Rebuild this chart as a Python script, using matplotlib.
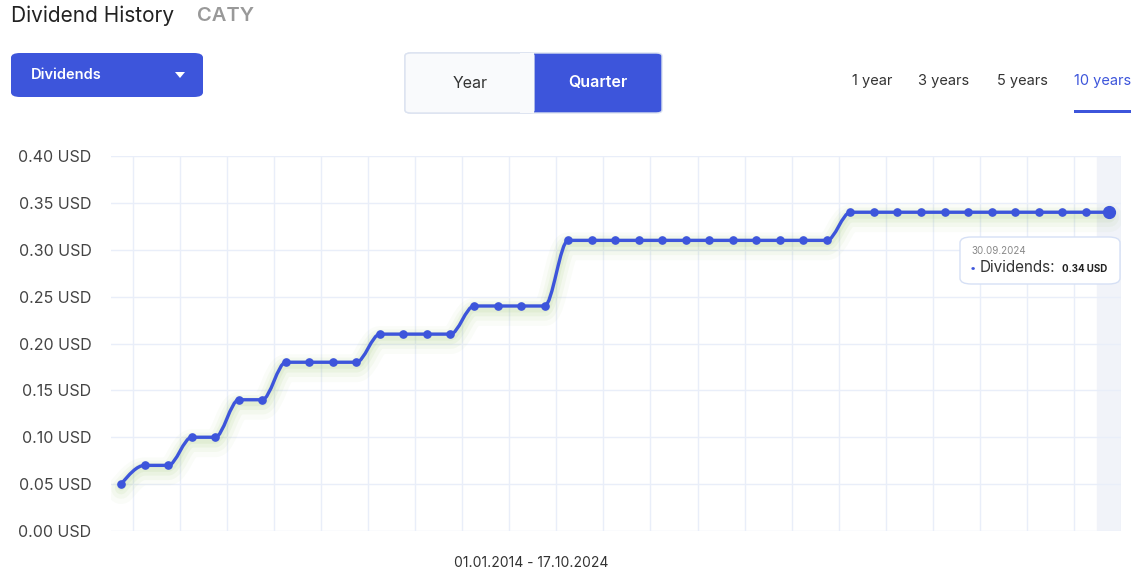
import numpy as np
import matplotlib.pyplot as plt
from matplotlib.path import Path
from matplotlib.patches import PathPatch, FancyBboxPatch, Rectangle, Polygon
import matplotlib.transforms as mtransforms

plt.rcParams['font.family'] = ['Inter', 'DejaVu Sans']

# quarterly dividends, Q1 2014 .. Q3 2024
dividends = [0.05, 0.07, 0.07, 0.10, 0.10, 0.14, 0.14,
             0.18, 0.18, 0.18, 0.18, 0.21, 0.21, 0.21, 0.21,
             0.24, 0.24, 0.24, 0.24] + [0.31] * 12 + [0.34] * 12
yticks = [0.0, 0.05, 0.10, 0.15, 0.20, 0.25, 0.30, 0.35, 0.40]
ranges = ['1 year', '3 years', '5 years', '10 years']
period = '01.01.2014 - 17.10.2024'
hover_date = '30.09.2024'

blue = '#3d55db'
W, H = 1145, 578
fig = plt.figure(figsize=(W / 100, H / 100), dpi=100)


def fx(px):
    return px / W


def fy(py):
    return 1 - py / H


# ---------- header widgets ----------
fig.text(fx(11), fy(16), 'Dividend History', fontsize=15, color='#222', va='center')
fig.text(fx(197), fy(16), 'CATY', fontsize=14.5, color='#999', va='center', fontweight='semibold')

fig.patches.append(FancyBboxPatch((fx(11), fy(97)), fx(192), 44 / H,
                                  boxstyle='round,pad=0,rounding_size=0.008',
                                  transform=fig.transFigure, fc=blue, ec='none'))
fig.text(fx(31), fy(75), 'Dividends', fontsize=10.5, color='white', va='center', fontweight='semibold')
fig.patches.append(Polygon([[fx(175), fy(72)], [fx(185), fy(72)], [fx(180), fy(78)]],
                           closed=True, transform=fig.transFigure, fc='white', ec='none'))

fig.patches.append(FancyBboxPatch((fx(405), fy(113)), fx(257), 60 / H,
                                  boxstyle='round,pad=0,rounding_size=0.005',
                                  transform=fig.transFigure, fc=blue, ec='#dbe2f0', lw=1))
fig.patches.append(FancyBboxPatch((fx(405), fy(113)), fx(129), 60 / H,
                                  boxstyle='round,pad=0,rounding_size=0.005',
                                  transform=fig.transFigure, fc='#f9fafc', ec='#dbe2f0', lw=1))
fig.patches.append(Rectangle((fx(520), fy(112.5)), fx(14), 59 / H,
                             transform=fig.transFigure, fc='#f9fafc', ec='none'))
fig.text(fx(470), fy(83), 'Year', fontsize=11.5, color='#333', ha='center', va='center')
fig.text(fx(598), fy(83), 'Quarter', fontsize=11.5, color='white', ha='center', va='center', fontweight='semibold')

for lab, cx in zip(ranges, [872, 944, 1022, 1103]):
    fig.text(fx(cx), fy(81), lab, fontsize=10.5, ha='center', va='center',
             color=blue if lab == '10 years' else '#333')
fig.patches.append(Rectangle((fx(1074), fy(113)), fx(57), 3 / H,
                             transform=fig.transFigure, fc=blue, ec='none'))

# ---------- chart ----------
ax = fig.add_axes([fx(111), fy(531), fx(1010), 375 / H])
n = len(dividends)
x = np.arange(n)
y = np.array(dividends)
ax.set_xlim(-0.43, n - 0.5)
ax.set_ylim(0, 0.40)

ax.set_yticks(yticks)
ax.set_yticklabels(['%.2f USD' % v for v in yticks], fontsize=11.5, color='#444')
ax.tick_params(axis='y', length=0, pad=14)
ax.set_xticks(np.arange(0.5, n, 2))
ax.set_xticklabels([])
ax.tick_params(axis='x', length=0)
ax.grid(True, color='#e9eef9', lw=1)
ax.set_axisbelow(True)
for s in ax.spines.values():
    s.set_visible(False)

# hover band on last quarter
ax.axvspan(n - 1.5, n - 0.5, color='#f1f3f9', zorder=0)

# monotone cubic tangents (smooth line like the web chart)
d = np.diff(y)
m = np.zeros(n)
for i in range(1, n - 1):
    s0, s1 = d[i - 1], d[i]
    p = (s0 + s1) / 2
    m[i] = (np.sign(s0) + np.sign(s1)) * min(abs(s0), abs(s1), 0.5 * abs(p))
m[0] = (3 * d[0] - m[1]) / 2
m[-1] = (3 * d[-1] - m[-2]) / 2

verts = [(x[0], y[0])]
codes = [Path.MOVETO]
for i in range(n - 1):
    verts += [(x[i] + 1 / 3, y[i] + m[i] / 3),
              (x[i + 1] - 1 / 3, y[i + 1] - m[i + 1] / 3),
              (x[i + 1], y[i + 1])]
    codes += [Path.CURVE4] * 3
path = Path(verts, codes)

# soft green glow under the line
for lw, a, off in [(20, 0.035, -6), (14, 0.05, -5), (9, 0.07, -4), (5, 0.08, -3)]:
    tr = mtransforms.offset_copy(ax.transData, fig=fig, x=0, y=off, units='dots')
    ax.add_patch(PathPatch(path, fill=False, ec='#7cb342', lw=lw, alpha=a,
                           transform=tr, capstyle='round', joinstyle='round', zorder=2))

ax.add_patch(PathPatch(path, fill=False, ec=blue, lw=2.4, zorder=3))
ax.plot(x[:-1], y[:-1], 'o', color=blue, ms=5.2, zorder=4)
ax.plot(x[-1], y[-1], 'o', color=blue, ms=8.5, zorder=4)

fig.text(fx(531), fy(563), period, fontsize=10, color='#333', ha='center', va='center')

# tooltip
fig.patches.append(FancyBboxPatch((fx(960), fy(284)), fx(160), 47 / H,
                                  boxstyle='round,pad=0,rounding_size=0.01',
                                  transform=fig.transFigure, fc='white', ec='#d6e0f5', lw=1, zorder=5))
fig.text(fx(971), fy(251), hover_date, fontsize=7, color='#888', va='center', zorder=6)
fig.text(fx(970), fy(268), '•', fontsize=8, color=blue, va='center', zorder=6)
fig.text(fx(980), fy(268), 'Dividends:', fontsize=11, color='#333', va='center', zorder=6)
fig.text(fx(1062), fy(268.5), '%.2f USD' % y[-1], fontsize=7, color='#222', va='center',
         fontweight='bold', zorder=6)

fig.savefig('out.png', dpi=100)
